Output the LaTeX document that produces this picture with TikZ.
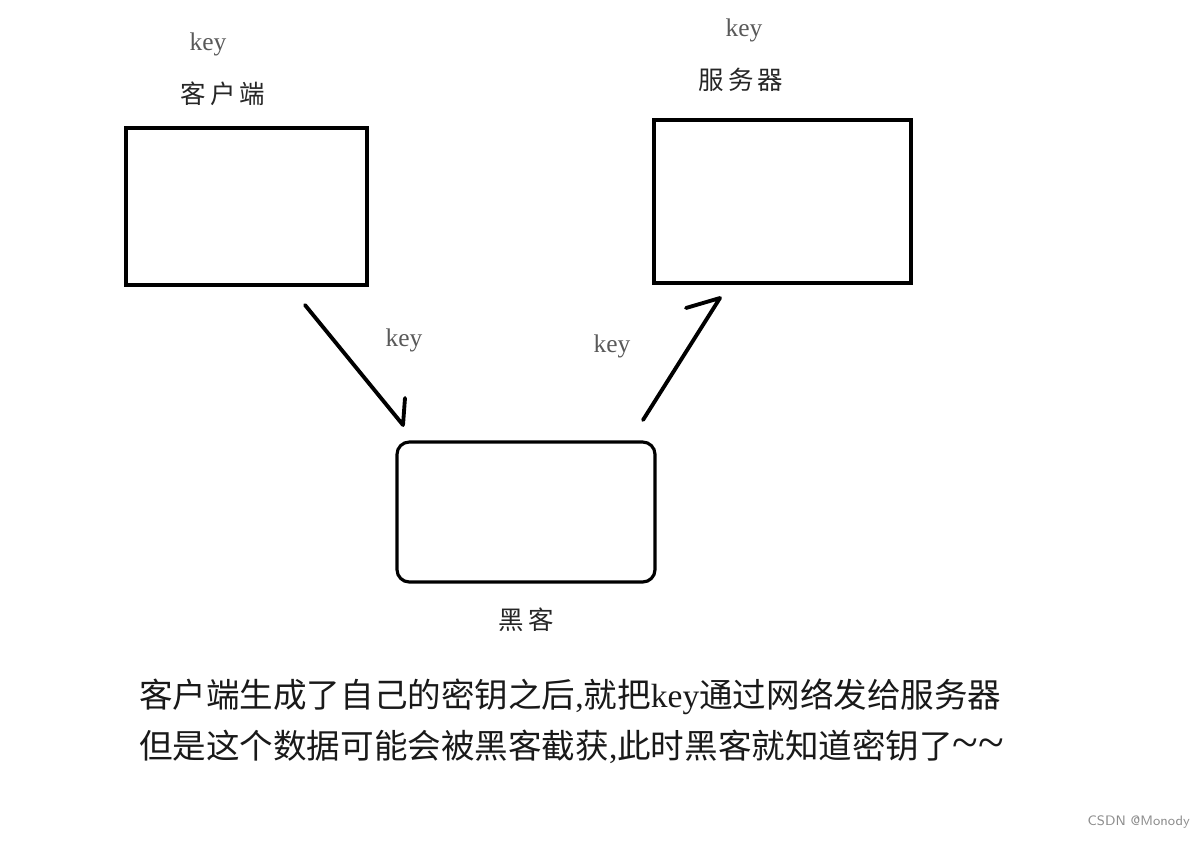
\documentclass[tikz,border=0pt]{standalone}
\usepackage{fontspec}
\setmainfont{Liberation Serif}
\newfontfamily\cjk{Noto Sans CJK SC}
\usetikzlibrary{calc}

\begin{document}
\begin{tikzpicture}[x=0.02cm, y=-0.02cm,
  box/.style={draw, line width=1.8pt},
  keylabel/.style={text=black!65, font=\fontsize{14.5}{16}\selectfont},
  title/.style={text=black!85, font=\cjk\fontsize{14.5}{16}\selectfont},
  caption/.style={anchor=west, text=black!90, font=\fontsize{19.1}{22}\selectfont},
  stroke/.style={line width=2.2pt, line cap=round, line join=round}]
  \useasboundingbox (0,0) rectangle (1198,840);
  % boxes
  \draw[box] (126,128) rectangle (367,285);
  \draw[box] (654,120) rectangle (911,283);
  \draw[box, rounded corners=7pt] (397,442) rectangle (655,582);
  % labels above boxes
  \node[keylabel] (kc) at (208,44) {key};
  \node[title] (tc) at (223,94) {客\,户\,端};
  \node[keylabel] (ks) at (744,30) {key};
  \node[title] (ts) at (741,80) {服\,务\,器};
  \node[title] (th) at (526,620) {黑\,客};
  % hand drawn arrows
  \coordinate (a1) at (305,305);
  \coordinate (a2) at (403,425);
  \coordinate (a3) at (405,398);
  \draw[stroke] (a1) -- (a2) -- (a3);
  \node[keylabel] (k1) at (404,340) {key};
  \coordinate (b1) at (643,420);
  \coordinate (b2) at (720,298);
  \coordinate (b3) at (686,308);
  \draw[stroke] (b1) -- (b2) -- (b3);
  \node[keylabel] (k2) at (612,346) {key};
  % caption
  \node[caption] (cap1) at (133,697)
    {{\cjk 客户端生成了自己的密钥之后}{,}{\cjk 就把}key{\cjk 通过网络发给服务器}};
  \node[caption] (cap2) at (133,747)
    {{\cjk 但是这个数据可能会被黑客截获}{,}{\cjk 此时黑客就知道密钥了}{\fontsize{27}{28}\selectfont\textasciitilde\textasciitilde}};
  % watermark
  \node[anchor=east, text=black!45, font=\fontfamily{lmss}\fontsize{7.8}{9}\selectfont] (wm) at (1196,822) {CSDN @Monody};
\end{tikzpicture}
\end{document}
